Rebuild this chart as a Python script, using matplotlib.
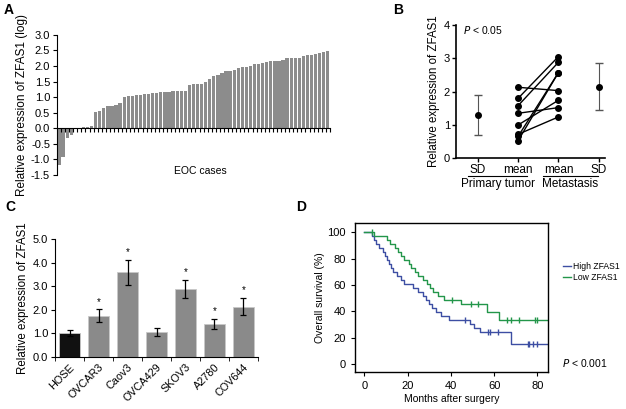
"""Four-panel ZFAS1 expression figure (A-D)."""

import matplotlib

matplotlib.use("Agg")
import matplotlib.pyplot as plt
import numpy as np

plt.rcParams["font.family"] = ["Liberation Sans", "DejaVu Sans"]
plt.rcParams["font.size"] = 8
plt.rcParams["axes.unicode_minus"] = False

# Panel A: relative expression per EOC case (log), sorted
eoc_values = [
    -1.17, -0.93, -0.30, -0.22, -0.03, 0.02, 0.03, 0.05, 0.07,
    0.53, 0.54, 0.66, 0.72, 0.73, 0.74, 0.80, 0.99, 1.02, 1.05, 1.08, 1.08,
    1.09, 1.10, 1.12, 1.13, 1.17, 1.18, 1.18, 1.19, 1.19, 1.19, 1.19,
    1.39, 1.41, 1.42, 1.43, 1.50, 1.57, 1.68, 1.70, 1.77, 1.85, 1.85, 1.86,
    1.92, 1.97, 1.98, 2.00, 2.05, 2.07, 2.10, 2.12, 2.15, 2.16, 2.17, 2.20,
    2.25, 2.26, 2.26, 2.27, 2.33, 2.36, 2.36, 2.37, 2.42, 2.45, 2.47,
]

# Panel B: paired primary tumor / metastasis
primary = [2.13, 1.80, 1.58, 1.35, 1.00, 0.72, 0.66, 0.53]
metastasis = [2.03, 3.05, 2.88, 1.52, 1.74, 1.24, 2.57, 2.57]
primary_mean, primary_lo, primary_hi = 1.30, 0.70, 1.90
meta_mean, meta_lo, meta_hi = 2.15, 1.45, 2.85
b_labels = ["SD", "mean", "mean", "SD"]

# Panel C: cell lines
cell_lines = ["HOSE", "OVCAR3", "Caov3", "OVCA429", "SKOV3", "A2780", "COV644"]
cell_values = [1.00, 1.75, 3.59, 1.04, 2.88, 1.39, 2.13]
cell_errors = [0.14, 0.26, 0.53, 0.17, 0.38, 0.21, 0.36]
cell_signif = [False, True, True, False, True, True, True]

# Panel D: Kaplan-Meier steps (event time, survival after event)
high_t = [0, 3.5, 4.5, 5.5, 7, 8.5, 9.5, 10.5, 11.5, 12.5, 13.5, 15, 17, 18.5,
          22.5, 25, 27, 28.5, 30, 31.5, 33, 35.5, 39, 49, 50.5, 53.5, 68]
high_s = [100, 97, 93.9, 90.9, 87.9, 84.8, 81.8, 78.8, 75.8, 72.7, 69.7, 66.7,
          63.6, 60.6, 57.6, 54.5, 51.5, 48.5, 45.5, 42.4, 39.4, 36.4, 33.3,
          30.3, 27.3, 24.2, 15.1]
high_censor = [46.5, 57, 58, 62, 75.5, 76, 78, 80]
low_t = [0, 4.5, 10.5, 12, 14, 15.5, 17, 18.5, 20.5, 21.5, 23.5, 25, 27, 29,
         30.5, 32, 34, 37, 44.5, 56.5, 62.5]
low_s = [100, 97, 93.9, 90.9, 87.9, 84.8, 81.8, 78.8, 75.8, 72.7, 69.7, 66.7,
         63.6, 60.6, 57.6, 54.5, 51.5, 48.5, 45.5, 39.4, 33.3]
low_censor = [3.5, 40.5, 49.5, 52.5, 66, 68, 71.5, 79, 80]

BLUE = "#3d4ea3"
GREEN = "#23964a"


def panel_a(fig):
    ax = fig.add_axes([0.091, 0.572, 0.436, 0.343])
    x = np.arange(len(eoc_values))
    ax.bar(x, eoc_values, width=0.8, color="#8c8c8c")
    ax.set_xlim(-0.5, len(eoc_values) - 0.5)
    ax.set_ylim(-1.5, 3.0)
    ax.set_yticks(np.arange(-1.5, 3.01, 0.5))
    ax.set_yticklabels([f"{v:.1f}" for v in np.arange(-1.5, 3.01, 0.5)])
    for s in ["top", "right"]:
        ax.spines[s].set_visible(False)
    ax.spines["bottom"].set_position(("data", 0))
    ax.set_xticks(x + 0.5)
    ax.set_xticklabels([])
    ax.tick_params(axis="x", length=3, width=0.8)
    ax.tick_params(axis="y", length=3, pad=2)
    ax.set_ylabel("Relative expression of ZFAS1 (log)", fontsize=8.5,
                  labelpad=2)
    ax.text(0.527, 0.03, "EOC cases", transform=ax.transAxes, ha="center",
            va="center", fontsize=7.5)
    fig.text(0.006, 0.975, "A", fontsize=10, fontweight="bold", va="center")


def panel_b(fig):
    ax = fig.add_axes([0.728, 0.613, 0.238, 0.326])
    pos = [1, 2, 3, 4]
    for p, m in zip(primary, metastasis):
        ax.plot([pos[1], pos[2]], [p, m], color="black", lw=1)
    ax.plot([pos[1]] * len(primary), primary, "o", color="black", ms=4)
    ax.plot([pos[2]] * len(metastasis), metastasis, "o", color="black", ms=4)
    ax.errorbar([pos[0]], [primary_mean],
                yerr=[[primary_mean - primary_lo], [primary_hi - primary_mean]],
                fmt="o", color="black", ms=4, ecolor="#555555", elinewidth=0.8,
                capsize=3)
    ax.errorbar([pos[3]], [meta_mean],
                yerr=[[meta_mean - meta_lo], [meta_hi - meta_mean]],
                fmt="o", color="black", ms=4, ecolor="#555555", elinewidth=0.8,
                capsize=3)
    ax.set_xlim(0.45, 4.15)
    ax.set_ylim(0, 4)
    ax.set_yticks([0, 1, 2, 3, 4])
    ax.set_xticks(pos)
    ax.set_xticklabels(b_labels, fontsize=8.5)
    ax.tick_params(length=3, width=1, pad=1)
    for s in ["top", "right"]:
        ax.spines[s].set_visible(False)
    for s in ["left", "bottom"]:
        ax.spines[s].set_linewidth(1.2)
    ax.set_ylabel("Relative expression of ZFAS1", fontsize=8.3, labelpad=3)
    ax.text(0.05, 0.96, r"$\it{P}$ < 0.05", transform=ax.transAxes,
            fontsize=7.5, va="center")
    tr = ax.get_xaxis_transform()
    ax.plot([0.75, 2.22], [-0.135, -0.135], color="black", lw=0.8,
            transform=tr, clip_on=False)
    ax.plot([2.61, 3.98], [-0.135, -0.135], color="black", lw=0.8,
            transform=tr, clip_on=False)
    ax.text(1.5, -0.19, "Primary tumor", transform=tr, ha="center",
            va="center", fontsize=8.5)
    ax.text(3.28, -0.19, "Metastasis", transform=tr, ha="center",
            va="center", fontsize=8.5)
    fig.text(0.628, 0.975, "B", fontsize=10, fontweight="bold", va="center")


def panel_c(fig):
    ax = fig.add_axes([0.088, 0.128, 0.324, 0.287])
    x = np.arange(len(cell_lines))
    colors = ["#111111"] + ["#8a8a8a"] * (len(cell_lines) - 1)
    ax.bar(x, cell_values, width=0.72, color=colors, edgecolor="#c8c8c8",
           linewidth=0.6)
    ax.errorbar(x, cell_values, yerr=cell_errors, fmt="none", ecolor="black",
                elinewidth=0.9, capsize=2.5, capthick=0.9)
    for xi, v, e, sig in zip(x, cell_values, cell_errors, cell_signif):
        if sig:
            ax.text(xi, v + e + 0.12, "*", ha="center", va="bottom", fontsize=7)
    ax.set_xlim(-0.5, len(cell_lines) - 0.5)
    ax.set_ylim(0, 5)
    ax.set_yticks(np.arange(0, 5.1, 1.0))
    ax.set_yticklabels([f"{v:.1f}" for v in np.arange(0, 5.1, 1.0)])
    ax.set_xticks(x)
    ax.set_xticklabels(cell_lines, rotation=45, ha="right",
                       rotation_mode="anchor", fontsize=7.8)
    ax.set_xticks(np.arange(-0.5, len(cell_lines)), minor=True)
    ax.tick_params(axis="x", which="major", length=0, pad=4)
    ax.tick_params(axis="x", which="minor", length=3)
    ax.tick_params(axis="y", length=3, pad=2)
    for s in ["top", "right"]:
        ax.spines[s].set_visible(False)
    ax.set_ylabel("Relative expression of ZFAS1", fontsize=8.3, labelpad=3)
    fig.text(0.008, 0.495, "C", fontsize=10, fontweight="bold", va="center")


def step_level(t, s, when):
    idx = np.searchsorted(t, when, side="right") - 1
    return np.array(s)[idx]


def panel_d(fig):
    ax = fig.add_axes([0.567, 0.0905, 0.308, 0.3645])
    end = 85
    ax.step(high_t + [end], high_s + [high_s[-1]], where="post", color=BLUE,
            lw=1, label="High ZFAS1")
    ax.step(low_t + [end], low_s + [low_s[-1]], where="post", color=GREEN,
            lw=1, label="Low ZFAS1")
    ax.plot(high_censor, step_level(high_t, high_s, high_censor), "|",
            color=BLUE, ms=4, mew=1)
    ax.plot(low_censor, step_level(low_t, low_s, low_censor), "|",
            color=GREEN, ms=4, mew=1)
    ax.set_xlim(-4.3, 84.8)
    ax.set_ylim(-6, 107)
    ax.set_xticks([0, 20, 40, 60, 80])
    ax.set_yticks([0, 20, 40, 60, 80, 100])
    ax.tick_params(length=3, labelsize=8)
    for s in ax.spines.values():
        s.set_linewidth(1)
    ax.set_xlabel("Months after surgery", fontsize=7.5, labelpad=2)
    ax.set_ylabel("Overall survival (%)", fontsize=7.5, labelpad=2)
    fig.legend(loc="center left", bbox_to_anchor=(0.9, 0.335), frameon=False,
               handlelength=0.9, handletextpad=0.25, labelspacing=0.25,
               fontsize=6.2, borderpad=0, borderaxespad=0)
    fig.text(0.898, 0.112, r"$\it{P}$ < 0.001", fontsize=7.5, va="center")
    fig.text(0.473, 0.495, "D", fontsize=10, fontweight="bold", va="center")


if __name__ == "__main__":
    fig = plt.figure(figsize=(6.26, 4.09), dpi=100)
    panel_a(fig)
    panel_b(fig)
    panel_c(fig)
    panel_d(fig)
    fig.savefig("out.png", dpi=100)
